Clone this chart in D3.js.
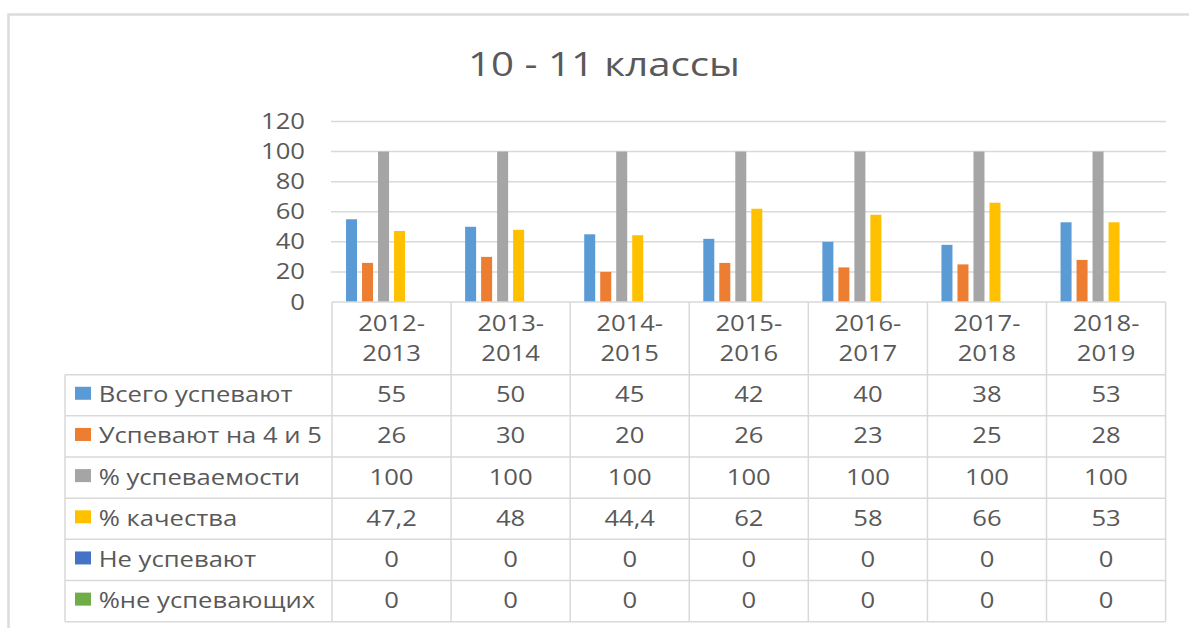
<!DOCTYPE html>
<html><head><meta charset="utf-8">
<script src="https://cdn.jsdelivr.net/npm/d3@7"></script>
<style>html,body{margin:0;padding:0;background:#fff;}svg{display:block;}</style>
</head><body>
<svg id="chart" width="1189" height="628"></svg>
<script>
const title = "10 - 11 классы";
const categories = ["2012-2013","2013-2014","2014-2015","2015-2016","2016-2017","2017-2018","2018-2019"];
const seriesNames = ["Всего успевают","Успевают на 4 и 5","% успеваемости","% качества","Не успевают","%не успевающих"];
const seriesColors = ["#5B9BD5","#ED7D31","#A5A5A5","#FFC000","#4472C4","#70AD47"];
const vsegoUspevayut = [55,50,45,42,40,38,53];
const uspevayut45 = [26,30,20,26,23,25,28];
const pctUspevaemosti = [100,100,100,100,100,100,100];
const pctKachestva = [47.2,48,44.4,62,58,66,53];
const neUspevayut = [0,0,0,0,0,0,0];
const pctNeUspevayuschih = [0,0,0,0,0,0,0];
const yTicks = [0,20,40,60,80,100,120];
const seriesValues = [vsegoUspevayut,uspevayut45,pctUspevaemosti,pctKachestva,neUspevayut,pctNeUspevayuschih];

const svg = d3.select("#chart");
const FONT = "'Open Sans', 'Noto Sans', sans-serif";
const TXT = "#595959";
const GRID = "#d9d9d9";
const SX = 1.22;

function txt(g, x, y, s, size, anchor, color){
  return g.append("text")
    .attr("transform", `translate(${x},${y}) scale(${SX},1)`)
    .attr("text-anchor", anchor || "start")
    .attr("font-family", FONT)
    .attr("font-size", size)
    .attr("fill", color || TXT)
    .text(s);
}

// outer frame
svg.append("rect").attr("x",8.5).attr("y",14.5).attr("width",1200).attr("height",640)
  .attr("fill","none").attr("stroke","#dcdcdc").attr("stroke-width",2.5);

// title
txt(svg, 604, 76, title, 33, "middle");

const x = d3.scaleBand().domain(categories).range([332,1165.6]);
const xs = d3.scaleBand().domain(d3.range(seriesNames.length)).range([0, x.bandwidth()])
  .paddingInner(0.3125).paddingOuter(0.877);
const y = d3.scaleLinear().domain([0,120]).range([302,121.5]);

// grid lines
svg.append("g").selectAll("line").data(yTicks.filter(t=>t>0)).join("line")
  .attr("x1",331).attr("x2",1166).attr("y1",d=>y(d)).attr("y2",d=>y(d))
  .attr("stroke",GRID).attr("stroke-width",1.5);

// y tick labels
const yl = svg.append("g");
yTicks.forEach(t => txt(yl, 305, y(t)+7.5, t, 21, "end"));

// bars
const bars = svg.append("g");
seriesValues.forEach((vals, si) => {
  bars.selectAll(null).data(vals).join("rect")
    .attr("x",(d,i)=>x(categories[i]) + xs(si))
    .attr("width", xs.bandwidth())
    .attr("y", d=>y(d))
    .attr("height", d=>y(0)-y(d))
    .attr("fill", seriesColors[si]);
});

// table
const rows = d3.scaleBand().domain(d3.range(seriesNames.length)).range([374.7,621.7]);
const tbl = svg.append("g").attr("stroke",GRID).attr("stroke-width",1.5);
// top border (axis)
tbl.append("line").attr("x1",332).attr("x2",1165.6).attr("y1",302).attr("y2",302);
// horizontal row lines
const rowEdges = d3.range(seriesNames.length+1).map(i=>rows.range()[0] + i*rows.step());
tbl.selectAll(null).data(rowEdges).join("line")
  .attr("x1",65).attr("x2",1165.6).attr("y1",d=>d).attr("y2",d=>d);
// vertical column lines
const colEdges = categories.map(c=>x(c)).concat([x.range()[1]]);
tbl.selectAll(null).data(colEdges).join("line")
  .attr("x1",d=>d).attr("x2",d=>d).attr("y1",302).attr("y2",621.7);
tbl.append("line").attr("x1",65).attr("x2",65).attr("y1",374.7).attr("y2",621.7);

// header labels
const hdr = svg.append("g");
categories.forEach(c => {
  const [a,b] = c.split("-");
  const cx = x(c) + x.bandwidth()/2;
  txt(hdr, cx, 331, a+"-", 21, "middle");
  txt(hdr, cx, 361, b, 21, "middle");
});

// rows
const rg = svg.append("g");
const fmt = v => String(v).replace(".", ",");
seriesNames.forEach((name, si) => {
  const cy = rows(si) + rows.bandwidth()/2;
  rg.append("rect").attr("x",75).attr("y",cy-8.5).attr("width",16).attr("height",13)
    .attr("fill",seriesColors[si]);
  txt(rg, 98.7, cy+7, name, 21, "start");
  seriesValues[si].forEach((v,i) => {
    txt(rg, x(categories[i]) + x.bandwidth()/2, cy+7, fmt(v), 21, "middle");
  });
});
</script>
</body></html>
